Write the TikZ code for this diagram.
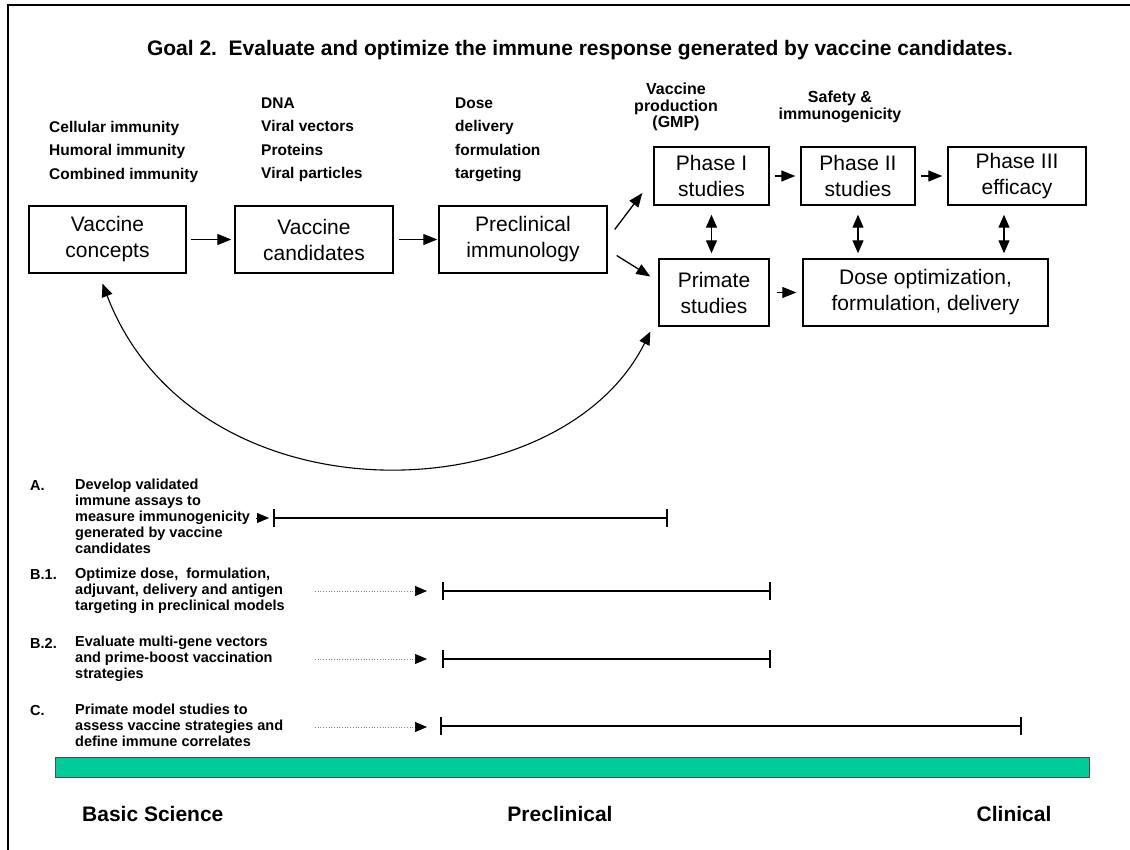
\documentclass[tikz,border=0pt]{standalone}
\usepackage{fontspec}
\setmainfont{Liberation Sans}
\usetikzlibrary{arrows.meta,calc}
\definecolor{barteal}{HTML}{00CC99}

\begin{document}
\begin{tikzpicture}[x=1pt,y=-1pt,
	box/.style={draw, line width=1.4pt, inner sep=0pt, align=center,
			font=\fontsize{21}{26}\selectfont},
	note/.style={inner sep=0pt, anchor=north west, align=left,
			font=\fontsize{15.5}{23.5}\selectfont\bfseries},
	small/.style={inner sep=0pt, anchor=north, align=center,
			font=\fontsize{16}{16.5}\selectfont\bfseries},
	tag/.style={inner sep=0pt, anchor=north west, align=left,
			font=\fontsize{14.5}{16}\selectfont\bfseries},
	stage/.style={inner sep=0pt, font=\fontsize{21}{24}\selectfont\bfseries},
	go/.style={-{Triangle[length=14pt,width=11pt]}, line width=1.3pt},
	both/.style={{Triangle[length=13pt,width=11pt]}-{Triangle[length=13pt,width=11pt]}, line width=1.3pt},
	span/.style={{Bar[width=18pt]}-{Bar[width=18pt]}, line width=1.7pt},
	lead/.style={gray, dotted, line width=0.7pt, -{Triangle[length=12pt,width=10pt,black,fill=black]}}
	]
	\useasboundingbox (0,0) rectangle (1130,850);

	% frame
	\draw[line width=2.5pt] (8,850) -- (8,5) -- (1130,5);

	\node[font=\fontsize{21}{24}\selectfont\bfseries] (title) at (580,50)
		{Goal 2.\ \ Evaluate and optimize the immune response generated by vaccine candidates.};

	% notes above the boxes
	\node[note] (immunity) at (49,121) {Cellular immunity\\Humoral immunity\\Combined immunity};
	\node[note] (vectors) at (261,97.5) {DNA\\Viral vectors\\Proteins\\Viral particles};
	\node[note] (delivery) at (455,97.5) {Dose\\delivery\\formulation\\targeting};
	\node[small] (gmp) at (676,83) {Vaccine\\production\\(GMP)};
	\node[small] (safety) at (840,91) {Safety \&\\immunogenicity};

	% boxes
	\node[box, minimum width=157pt, minimum height=67pt] (concepts) at (107.5,239.5) {Vaccine\\concepts};
	\node[box, minimum width=158pt, minimum height=67pt] (candidates) at (314,239.5) {Vaccine\\candidates};
	\node[box, minimum width=168pt, minimum height=67pt] (preclin) at (523,239.5) {Preclinical\\immunology};
	\node[box, minimum width=115pt, minimum height=58pt] (phaseone) at (711.5,176) {Phase I\\studies};
	\node[box, minimum width=114pt, minimum height=58pt] (phasetwo) at (858,176) {Phase II\\studies};
	\node[box, minimum width=138pt, minimum height=58pt] (phasethree) at (1017,176) {Phase III\\efficacy};
	\node[box, minimum width=110pt, minimum height=67pt] (primate) at (714,292.5) {Primate\\studies};
	\node[box, minimum width=245pt, minimum height=67pt] (doseopt) at (925.5,292.5) {Dose optimization,\\formulation, delivery};

	% arrows between boxes
	\draw[go, shorten <=4pt, shorten >=3pt] (concepts) -- (candidates);
	\draw[go, shorten <=5pt, shorten >=1pt] (candidates) -- (preclin);
	\draw[go] ($(preclin.east)+(7,-10)$) -- ($(phaseone.west)+(-11,17)$);
	\draw[go] ($(preclin.east)+(9,16)$) -- ($(primate.west)+(-8,-16)$);
	\draw[go, shorten <=5pt, shorten >=5pt] (phaseone) -- (phasetwo);
	\draw[go, shorten <=5pt, shorten >=5pt] (phasetwo) -- (phasethree);
	\draw[go, shorten <=7pt, shorten >=6pt] (primate) -- (doseopt);
	\coordinate (threefoot) at ($(phasethree.south)+(-13,0)$);
	\draw[both, shorten <=9pt, shorten >=5pt] (phaseone.south) -- (phaseone.south |- primate.north);
	\draw[both, shorten <=9pt, shorten >=5pt] (phasetwo.south) -- (phasetwo.south |- doseopt.north);
	\draw[both, shorten <=9pt, shorten >=5pt] (threefoot) -- (threefoot |- doseopt.north);
	\draw[both, line width=1.1pt] ($(concepts.south)+(-5,10)$) .. controls (195,525) and (559,515) .. ($(primate.south west)+(-8,5)$);

	% objectives
	\foreach \y/\t in {486/A., 575/B.1., 643/B.2., 711/C.}
		\node[tag, anchor=west] at (30,\y) {\t};
	\node[tag] (goala) at (75,479) {Develop validated\\immune assays to\\measure immunogenicity\\generated by vaccine\\candidates};
	\node[tag] (goalb) at (75,568) {Optimize dose,\ \ formulation,\\adjuvant, delivery and antigen\\targeting in preclinical models};
	\node[tag] (goalc) at (75,636) {Evaluate multi-gene vectors\\and prime-boost vaccination\\strategies};
	\node[tag] (goald) at (75,704) {Primate model studies to\\assess vaccine strategies and\\define immune correlates};

	\coordinate (afrom) at (256,518);  \coordinate (ato) at (269,518);
	\coordinate (ain) at (273,518);    \coordinate (aout) at (668,518);
	\coordinate (bfrom) at (315,591);  \coordinate (bto) at (427,591);
	\coordinate (bin) at (442,591);    \coordinate (bout) at (771,591);
	\coordinate (cfrom) at (315,659);  \coordinate (cto) at (427,659);
	\coordinate (cin) at (442,659);    \coordinate (cout) at (771,659);
	\coordinate (dfrom) at (315,727);  \coordinate (dto) at (427,727);
	\coordinate (din) at (440,726);    \coordinate (dout) at (1022,726);

	\draw[-{Triangle[length=12pt,width=10pt]}] (afrom) -- (ato);
	\draw[span] (ain) -- (aout);
	\draw[lead] (bfrom) -- (bto);
	\draw[span] (bin) -- (bout);
	\draw[lead] (cfrom) -- (cto);
	\draw[span] (cin) -- (cout);
	\draw[lead] (dfrom) -- (dto);
	\draw[span] (din) -- (dout);

	% timeline
	\draw[fill=barteal, draw=black!70, line width=0.8pt] (55,757) rectangle (1089,777);
	\node[stage, anchor=west] (basic) at (82,814) {Basic Science};
	\node[stage] (preclinical) at (560,814) {Preclinical};
	\node[stage] (clinical) at (1014,814) {Clinical};
\end{tikzpicture}
\end{document}
